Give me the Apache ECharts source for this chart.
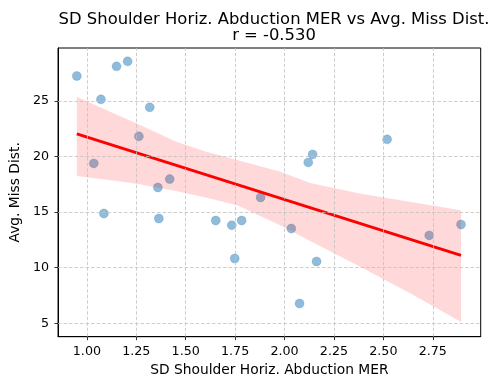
<!DOCTYPE html>
<html>
<head>
<meta charset="utf-8">
<script src="https://cdn.jsdelivr.net/npm/echarts@6/dist/echarts.min.js"></script>
<style>html,body{margin:0;padding:0;background:#fff;}#c{width:497px;height:390px;}</style>
</head>
<body>
<div id="c"></div>
<script>
// Scatter data (SD Shoulder Horiz. Abduction MER, Avg. Miss Dist.)
const sdMER = [0.949,1.071,1.150,1.206,1.318,1.263,1.035,1.419,1.359,1.086,1.364,1.652,1.733,1.783,1.748,1.879,2.034,2.162,2.076,2.120,2.142,2.519,2.732,2.893];
const missDist = [27.22,25.13,28.09,28.54,24.41,21.80,19.37,17.96,17.21,14.87,14.42,14.24,13.82,14.24,10.83,16.31,13.52,10.56,6.78,19.46,20.18,21.53,12.90,13.88];
// Regression line endpoints
const fitX = [0.949, 2.893];
const fitY = [22.03, 11.10];
// Confidence band
const bandX = [0.949, 1.12, 1.25, 1.45, 1.6, 1.76, 1.98, 2.13, 2.38, 2.64, 2.893];
const bandUpper = [25.35, 24.0, 22.97, 21.35, 20.45, 19.67, 18.62, 17.6, 16.67, 15.9, 15.17];
const bandLower = [18.25, 17.85, 17.55, 16.9, 16.3, 15.62, 13.8, 12.4, 10.1, 7.65, 5.13];
// Ticks
const xTicks = [1.00, 1.25, 1.50, 1.75, 2.00, 2.25, 2.50, 2.75];
const yTicks = [5, 10, 15, 20, 25];

const FONT = 'DejaVu Sans';
const chart = echarts.init(document.getElementById('c'), null, {renderer: 'canvas'});

const gridLineStyle = {color: '#c2c2c2', width: 0.8, type: [3.5, 2]};
const gridLines = xTicks.map(v => ({xAxis: v})).concat(yTicks.map(v => ({yAxis: v})));

chart.setOption({
  animation: false,
  backgroundColor: '#fff',
  title: {
    text: 'SD Shoulder Horiz. Abduction MER vs Avg. Miss Dist.\nr = -0.530',
    left: 269, top: 7, textAlign: 'center',
    textStyle: {fontFamily: FONT, fontSize: 16.4, fontWeight: 'normal', color: '#000', lineHeight: 15.5}
  },
  grid: {left: 57.5, right: 16.3, top: 48, bottom: 53.3, show: true, borderColor: '#000', borderWidth: 1, backgroundColor: 'transparent'},
  xAxis: {
    type: 'value', min: 0.854, max: 2.9925,
    name: 'SD Shoulder Horiz. Abduction MER', nameLocation: 'middle', nameGap: 27,
    nameTextStyle: {fontFamily: FONT, fontSize: 13.8, color: '#000'},
    axisLine: {show: true, onZero: false, lineStyle: {color: '#000', width: 1}},
    axisTick: {show: true, length: 3.5, customValues: xTicks, lineStyle: {color: '#000', width: 0.8}},
    axisLabel: {customValues: xTicks, margin: 8, fontFamily: FONT, fontSize: 12.7, color: '#000', formatter: v => v.toFixed(2)},
    splitLine: {show: false}
  },
  yAxis: {
    type: 'value', min: 3.8, max: 29.74,
    name: 'Avg. Miss Dist.', nameLocation: 'middle', nameGap: 31,
    nameTextStyle: {fontFamily: FONT, fontSize: 13.8, color: '#000'},
    axisLine: {show: true, onZero: false, lineStyle: {color: '#000', width: 1}},
    axisTick: {show: true, length: 3.5, customValues: yTicks, lineStyle: {color: '#000', width: 0.8}},
    axisLabel: {customValues: yTicks, margin: 9, fontFamily: FONT, fontSize: 12.7, color: '#000', formatter: v => String(v)},
    splitLine: {show: false}
  },
  series: [
    {
      type: 'scatter', z: 2,
      data: sdMER.map((x, i) => [x, missDist[i]]),
      symbolSize: 9,
      itemStyle: {color: 'rgba(31,119,180,0.62)', borderColor: 'rgba(31,119,180,0.35)', borderWidth: 0.8},
      markLine: {
        silent: true, symbol: ['none', 'none'], label: {show: false},
        lineStyle: gridLineStyle, data: gridLines, animation: false
      }
    },
    {
      type: 'custom', z: 3, silent: true,
      data: bandX.map((x, i) => [x, bandUpper[i], bandLower[i]]),
      encode: {x: 0, y: [1, 2]},
      renderItem: function (params, api) {
        if (params.dataIndex !== 0) return null;
        const pts = [];
        for (let i = 0; i < bandX.length; i++) pts.push(api.coord([bandX[i], bandUpper[i]]));
        for (let i = bandX.length - 1; i >= 0; i--) pts.push(api.coord([bandX[i], bandLower[i]]));
        return {type: 'polygon', shape: {points: pts}, style: {fill: 'rgba(255,0,0,0.15)'}};
      }
    },
    {
      type: 'line', z: 4, silent: true,
      data: fitX.map((x, i) => [x, fitY[i]]),
      showSymbol: false, symbol: 'none',
      lineStyle: {color: '#ff0000', width: 2.8}
    }
  ]
});
</script>
</body>
</html>
